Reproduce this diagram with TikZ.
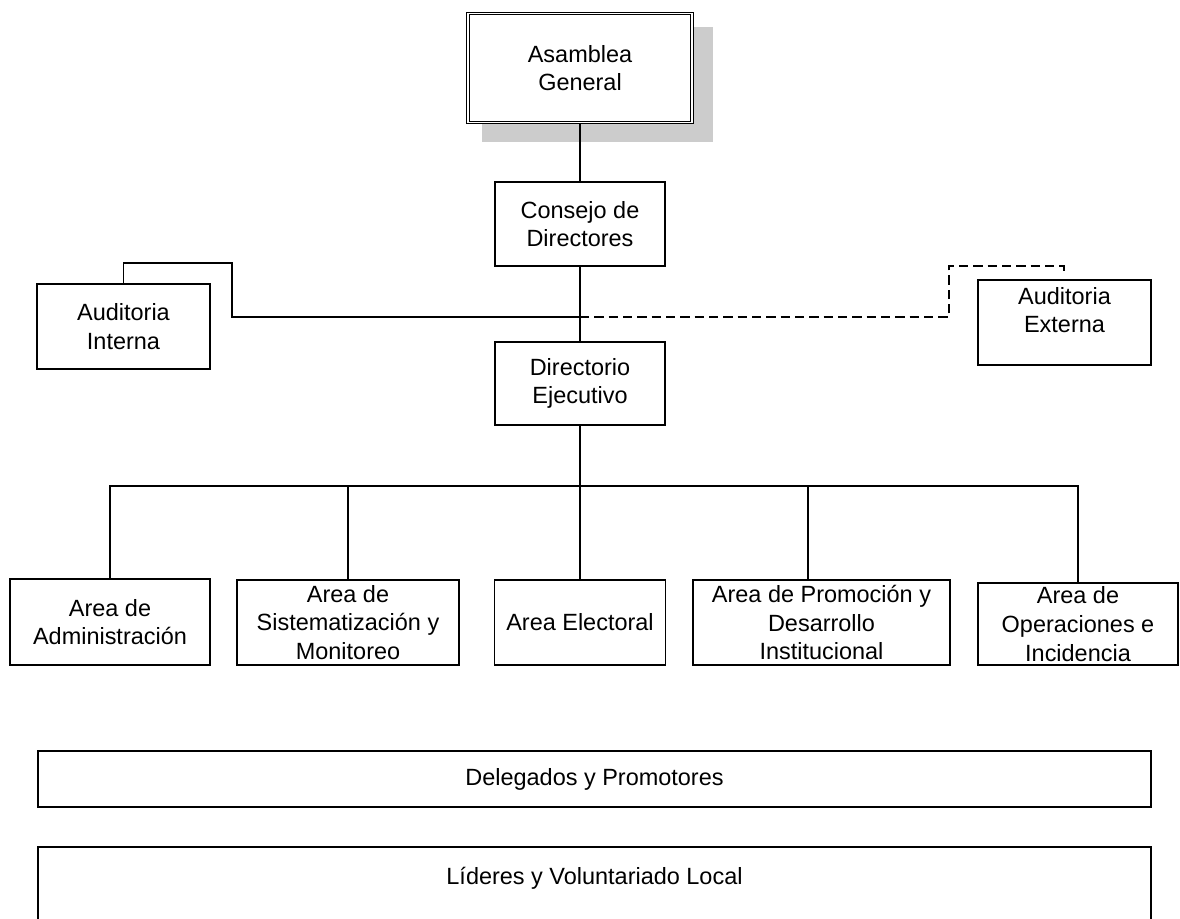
\documentclass[tikz,border=0pt]{standalone}
\usepackage{fontspec}
\setmainfont{Liberation Sans}
\usetikzlibrary{calc,backgrounds}
\definecolor{shadowgray}{HTML}{CCCCCC}
\tikzset{
  unit/.style={draw, fill=white, rectangle, inner sep=0pt, align=center, line width=0.9pt,
    font=\fontsize{17.6pt}{21.5pt}\selectfont},
  link/.style={line width=0.9pt},
  dottedlink/.style={line width=0.9pt, dash pattern=on 7pt off 3.75pt},
}
\begin{document}
\begin{tikzpicture}[x=0.75pt,y=-0.75pt]
\useasboundingbox (0,0) rectangle (1180,918);
\clip (0,0) rectangle (1180,918);

% governing body, framed with a double line and a flat shadow
\node[unit, double, double distance=1.1pt, line width=0.75pt,
  minimum width=168pt, minimum height=81.75pt] (asam) at (580,68) {Asamblea\\General};
\begin{scope}[on background layer]
  \fill[shadowgray] ($(asam.north west)+(14.5,14)$) rectangle ($(asam.south east)+(20.5,18.5)$);
\end{scope}

\node[unit, minimum width=127.5pt, minimum height=63pt]   (cons) at (580,224)    {Consejo de\\Directores};
\node[unit, minimum width=127.5pt, minimum height=62.25pt](dir)  at (580,383.5)  {Directorio\\Ejecutivo};
\node[unit, minimum width=129.75pt, minimum height=63.75pt](aint) at (123.5,326.5) {Auditoria\\Interna};
\node[unit, minimum width=129.75pt, minimum height=63.75pt, text depth=19pt](aext) at (1064.5,322.5) {Auditoria\\Externa};

% operating areas
\node[unit, minimum width=150pt,   minimum height=64.5pt]  (adm) at (110,622)    {Area de\\Administración};
\node[unit, minimum width=166.5pt, minimum height=63.75pt] (sis) at (348,622.5)  {Area de\\Sistematización y\\Monitoreo};
\node[unit, minimum width=128.25pt,minimum height=63.75pt] (ele) at (580,622.5)  {Area Electoral};
\node[unit, minimum width=192.75pt,minimum height=63.75pt] (pro) at (821.5,622.5){Area de Promoción y\\Desarrollo\\Institucional};
\node[unit, minimum width=150pt,   minimum height=61.5pt]  (ope) at (1078,624)   {Area de\\Operaciones e\\Incidencia};

% field levels
\node[unit, minimum width=834.75pt, minimum height=42pt] (del) at (594.5,779) {Delegados y Promotores};
\node[unit, minimum width=834.75pt, minimum height=66pt, text depth=23pt] (lid) at (594.5,891) {Líderes y Voluntariado Local};

% hierarchy lines
\coordinate (jn)  at (580,317);
\coordinate (bus) at (580,486);
\coordinate (ai1) at (232,263);
\coordinate (ae1) at (949,266);
\coordinate (ae2) at (1064,274);

\draw[link] (asam.south) -- (cons.north);
\draw[link] (cons.south) -- (dir.north);
\draw[link] (jn) -| (ai1) -| (aint.north);
\draw[dottedlink] (jn) -| (ae1) -| (ae2);

\draw[link] (dir.south) -- (ele.north);
\draw[link] (adm.north) -- (adm.north |- bus) -- (ope.north |- bus) -- (ope.north);
\draw[link] (sis.north) -- (sis.north |- bus);
\draw[link] ([xshift=-10.125pt]pro.north) -- ([xshift=-10.125pt]pro.north |- bus);
\end{tikzpicture}
\end{document}
